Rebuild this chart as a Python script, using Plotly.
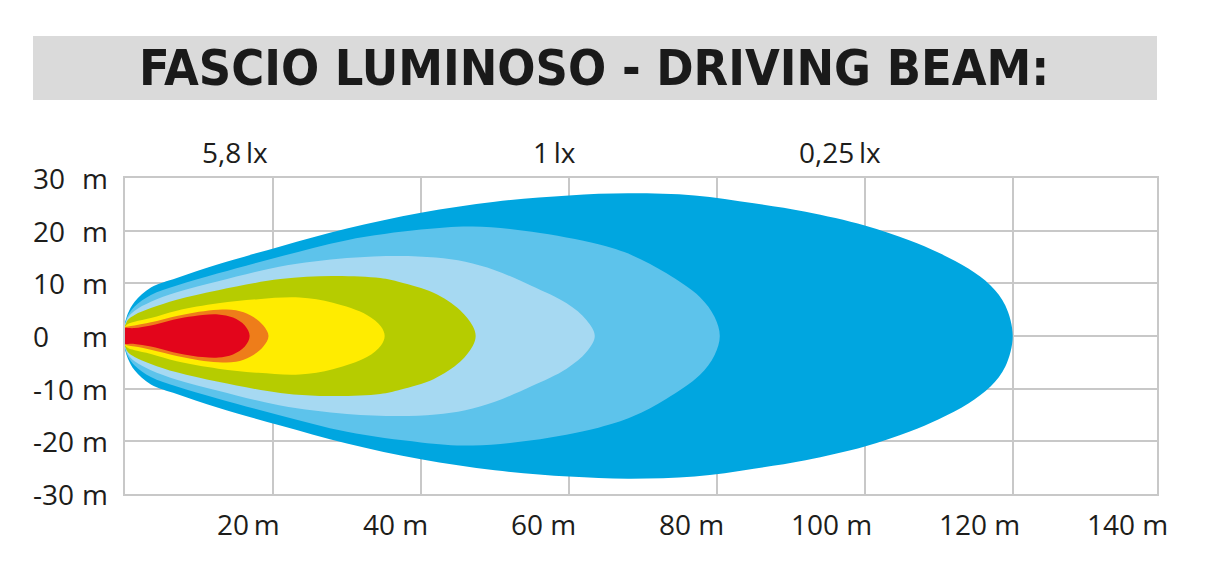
import plotly.graph_objects as go

# ---------------- data ----------------
title_text = "FASCIO LUMINOSO - DRIVING BEAM:"

x_tick_vals = [20, 40, 60, 80, 100, 120, 140]
x_tick_text = ["20\u2009m", "40 m", "60 m", "80 m", "100 m", "120 m", "140 m"]
y_tick_vals = [30, 20, 10, 0, -10, -20, -30]
y_tick_nums = ["30", "20", "10", "0", "-10", "-20", "-30"]

lux_labels = ["5,8\u2009lx", "1\u2009lx", "0,25\u2009lx"]
lux_x = [14.9, 58.1, 96.6]

# beam zones, outer -> inner: distance (m) and half-width (m) of upper outline
zone_names = ["0,25 lx", "0,5 lx", "1 lx", "2 lx", "3 lx", "5,8 lx", "10 lx"]
zone_colors = ["#00a6e0", "#5dc3eb", "#a6d9f2", "#b6cc00", "#ffec00", "#ee7d1a", "#e3051b"]

z1_x = [-0.8, 0, 0.4, 1.3, 3.5, 7, 12.6, 21, 30, 40, 50, 60, 68, 77, 85, 92, 100, 106, 110, 114, 117, 119, 120]
z1_h = [0, 2.6, 4.3, 6.5, 9.2, 11.0, 13.6, 17.0, 20.4, 23.4, 25.5, 26.7, 27.1, 26.7, 25.2, 23.6, 21.0, 18.2, 15.8, 12.8, 9.6, 5.8, 0]

z2_x = [-0.8, 0, 0.4, 1.3, 3.5, 7, 12.6, 21, 30, 40, 47, 55, 64, 68.6, 73.2, 77.7, 79.7, 80.4]
z2_h = [0, 2.4, 3.9, 5.6, 7.8, 9.6, 11.9, 15.1, 18.2, 20.2, 20.8, 19.8, 17.4, 15.3, 11.9, 7.4, 3.6, 0]

z3_x = [-0.8, 0, 0.4, 1.3, 3.5, 7, 12.6, 21, 30, 37, 42, 46, 50, 55, 59.7, 62.4, 63.5]
z3_h = [0, 2.2, 3.5, 4.8, 6.5, 8.3, 10.4, 13.2, 14.8, 15.2, 14.9, 14.1, 12.5, 9.5, 6.2, 3.0, 0]

z4_x = [-0.8, 0, 0.4, 1.3, 3.5, 7, 12.6, 21, 28, 34.5, 37.2, 41.7, 45.3, 47, 47.4]
z4_h = [0, 2.0, 3.1, 4.0, 5.3, 6.9, 8.7, 10.8, 11.4, 11.0, 10.2, 8.2, 4.9, 1.9, 0]

z5_x = [-0.8, 0, 0.4, 1.3, 3.5, 7, 12.6, 18, 23.6, 28.1, 32.7, 34.6, 35.1]
z5_h = [0, 1.8, 2.3, 2.7, 3.4, 4.8, 6.2, 7.0, 7.3, 6.3, 4.0, 1.8, 0]

z6_x = [-0.8, 0, 0.4, 1.3, 3.5, 7, 10, 12.6, 15, 17, 18.7, 19.4]
z6_h = [0, 1.6, 1.8, 2.0, 2.6, 3.8, 4.6, 5.0, 4.9, 3.9, 2.0, 0]

z7_x = [-0.8, 0, 0.4, 1.3, 3.5, 6, 8, 10.5, 12.6, 14.6, 16.2, 16.85]
z7_h = [0, 1.5, 1.5, 1.5, 2.0, 2.9, 3.5, 4.0, 4.1, 3.5, 2.0, 0]

zones_x = [z1_x, z2_x, z3_x, z4_x, z5_x, z6_x, z7_x]
zones_h = [z1_h, z2_h, z3_h, z4_h, z5_h, z6_h, z7_h]

# ---------------- layout geometry (pixels) ----------------
W, H = 1220, 583
PL, PR, PT, PB = 125, 1157, 178, 494   # plot area edges
X_MAX = 139.5


def px_x(px):
    return (px - PL) / (PR - PL)


def px_y(py):
    return (PB - py) / (PB - PT)


FONT = "Open Sans, Noto Sans, sans-serif"
FS = 28
TXT = "#1d1d1b"
GRID = "#c8c8c8"

fig = go.Figure()

for name, color, xs, hs in zip(zone_names, zone_colors, zones_x, zones_h):
    upper_x = list(xs)
    upper_y = list(hs)
    lower_x = list(reversed(xs[1:-1]))
    lower_y = [-v for v in reversed(hs[1:-1])]
    fig.add_trace(go.Scatter(
        x=upper_x + lower_x,
        y=upper_y + lower_y,
        mode="lines",
        line=dict(color=color, width=0, shape="spline", smoothing=1.0),
        fill="toself",
        fillcolor=color,
        name=name,
        hoverinfo="name",
        showlegend=False,
    ))

annotations = []
# x tick labels (paper coords so the 140 m label is not dropped)
for v, t in zip(x_tick_vals, x_tick_text):
    annotations.append(dict(x=v / X_MAX, y=px_y(524), xref="paper", yref="paper", text=t,
                            showarrow=False, xanchor="right", yanchor="middle",
                            xshift=9, font=dict(family=FONT, size=FS, color=TXT)))
# y tick labels (number + unit column)
for v, t in zip(y_tick_vals, y_tick_nums):
    annotations.append(dict(x=px_x(31), y=v, xref="paper", yref="y", text=t,
                            showarrow=False, xanchor="left", yanchor="middle",
                            font=dict(family=FONT, size=FS, color=TXT)))
    annotations.append(dict(x=px_x(80), y=v, xref="paper", yref="y", text="m",
                            showarrow=False, xanchor="left", yanchor="middle",
                            font=dict(family=FONT, size=FS, color=TXT)))
# lux labels above plot
for v, t in zip(lux_x, lux_labels):
    annotations.append(dict(x=v, y=px_y(152), xref="x", yref="paper", text=t,
                            showarrow=False, xanchor="center", yanchor="middle",
                            font=dict(family=FONT, size=FS, color=TXT)))
# title
annotations.append(dict(x=px_x(594), y=px_y(68), xref="paper", yref="paper",
                        text="<b>" + title_text + "</b>", showarrow=False,
                        xanchor="center", yanchor="middle",
                        font=dict(family="DejaVu Sans Condensed, Liberation Sans Narrow, Arial Narrow, sans-serif",
                                  size=50, color="#1a1a1a")))

shapes = [dict(type="rect", xref="paper", yref="paper",
               x0=px_x(33), x1=px_x(1157), y0=px_y(100), y1=px_y(36),
               fillcolor="#dadada", line=dict(width=0), layer="below")]

fig.update_layout(
    width=W, height=H,
    margin=dict(l=PL, r=W - PR, t=PT, b=H - PB, pad=0),
    paper_bgcolor="white", plot_bgcolor="white",
    annotations=annotations, shapes=shapes,
    showlegend=False,
)
fig.update_xaxes(range=[0, X_MAX], tickvals=x_tick_vals, showticklabels=False,
                 ticks="", showgrid=True, gridcolor=GRID, gridwidth=2,
                 zeroline=False, showline=True, mirror=True, linecolor=GRID,
                 linewidth=2, layer="below traces", fixedrange=True)
fig.update_yaxes(range=[-30, 30], tickvals=y_tick_vals, showticklabels=False,
                 ticks="", showgrid=True, gridcolor=GRID, gridwidth=2,
                 zeroline=False, showline=True, mirror=True, linecolor=GRID,
                 linewidth=2, layer="below traces", fixedrange=True)

fig.write_html("out.html", config={"displayModeBar": False},
               post_script="document.body.style.margin='0';document.body.style.overflow='hidden';")
